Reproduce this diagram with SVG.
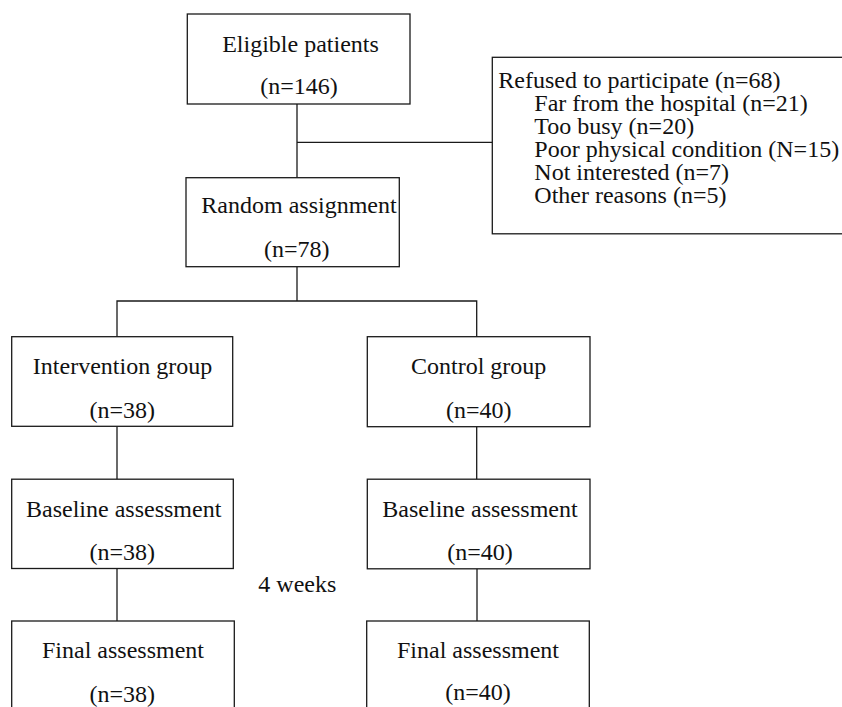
<svg xmlns="http://www.w3.org/2000/svg" width="842" height="707" viewBox="0 0 842 707">
<style>
  .box { fill: #ffffff; stroke: #1a1a1a; stroke-width: 1.3; }
  .ln { fill: none; stroke: #1a1a1a; stroke-width: 1.3; }
  text { font-family: "Liberation Serif", "Times New Roman", serif; font-size: 24px; fill: #111111; }
  .c { text-anchor: middle; }
</style>
<rect x="0" y="0" width="842" height="707" fill="#ffffff"/>
<g id="connectors">
  <line class="ln" x1="297" y1="104" x2="297" y2="177.7"/>
  <line class="ln" x1="297" y1="142.3" x2="492.3" y2="142.3"/>
  <line class="ln" x1="297" y1="266.7" x2="297" y2="301"/>
  <polyline class="ln" points="117,336.7 117,301 476.7,301 476.7,336.7"/>
  <line class="ln" x1="117" y1="426.3" x2="117" y2="479.2"/>
  <line class="ln" x1="476.7" y1="426.7" x2="476.7" y2="479.2"/>
  <line class="ln" x1="117" y1="568.5" x2="117" y2="621"/>
  <line class="ln" x1="477" y1="568.8" x2="477" y2="621"/>
</g>
<g id="eligible">
  <rect class="box" x="187.3" y="14" width="222.7" height="90"/>
  <text class="c" x="300.5" y="51.7">Eligible patients</text>
  <text class="c" x="299" y="94.3">(n=146)</text>
</g>
<g id="refused">
  <rect class="box" x="492.3" y="57.3" width="360" height="176.5"/>
  <text x="498.3" y="88">Refused to participate (n=68)</text>
  <text x="534.3" y="111">Far from the hospital (n=21)</text>
  <text x="534.3" y="134">Too busy (n=20)</text>
  <text x="534.3" y="157">Poor physical condition (N=15)</text>
  <text x="534.3" y="180">Not interested (n=7)</text>
  <text x="534.3" y="203">Other reasons (n=5)</text>
</g>
<g id="random">
  <rect class="box" x="186" y="177.7" width="213.3" height="89"/>
  <text class="c" x="299" y="213.3">Random assignment</text>
  <text class="c" x="296.7" y="256.7">(n=78)</text>
</g>
<g id="intervention">
  <rect class="box" x="11.7" y="336.7" width="221" height="89.6"/>
  <text class="c" x="122.5" y="373.5">Intervention group</text>
  <text class="c" x="122.3" y="417.7">(n=38)</text>
</g>
<g id="control">
  <rect class="box" x="367.3" y="336.7" width="222.7" height="90"/>
  <text class="c" x="478.7" y="374">Control group</text>
  <text class="c" x="478.7" y="418">(n=40)</text>
</g>
<g id="baseline-intervention">
  <rect class="box" x="11.7" y="479.2" width="221.6" height="89.3"/>
  <text class="c" x="123.7" y="516.7">Baseline assessment</text>
  <text class="c" x="122.3" y="560">(n=38)</text>
</g>
<g id="baseline-control">
  <rect class="box" x="367.3" y="479.2" width="222.7" height="89.6"/>
  <text class="c" x="480" y="516.5">Baseline assessment</text>
  <text class="c" x="480" y="559.5">(n=40)</text>
</g>
<g id="weeks-label">
  <text x="258.3" y="591.7">4 weeks</text>
</g>
<g id="final-intervention">
  <rect class="box" x="11.7" y="621" width="222.6" height="100"/>
  <text class="c" x="123" y="658.3">Final assessment</text>
  <text class="c" x="122.3" y="701.5">(n=38)</text>
</g>
<g id="final-control">
  <rect class="box" x="366.7" y="621" width="222.6" height="100"/>
  <text class="c" x="478" y="657.5">Final assessment</text>
  <text class="c" x="478" y="700.3">(n=40)</text>
</g>
</svg>
